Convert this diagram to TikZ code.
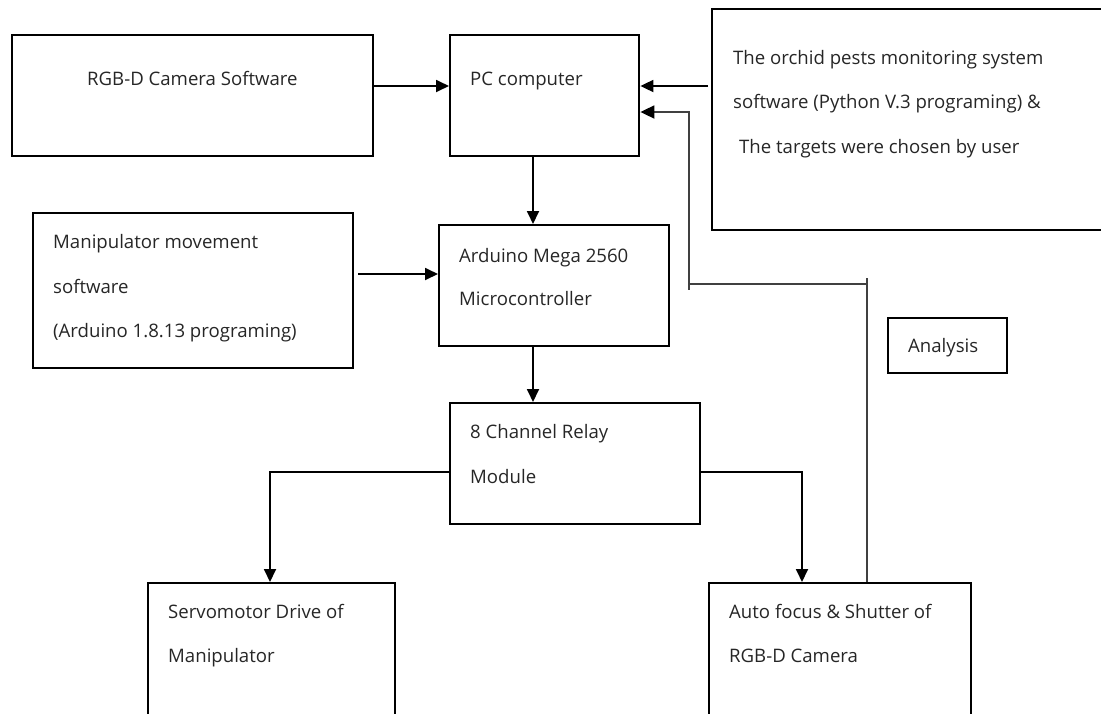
\documentclass[tikz,border=0pt]{standalone}
\usepackage{fontspec}
\setmainfont{Open Sans}
\usetikzlibrary{arrows.meta}
\begin{document}
\begin{tikzpicture}[x=1pt,y=-1pt,
  blk/.style={draw=black,line width=2.4pt,inner sep=0pt,anchor=north west},
  lbl/.style={anchor=base west,inner sep=0pt,font=\fontsize{18.6}{22}\selectfont,text=black!85},
  arr/.style={line width=1.8pt,-{Triangle[length=13pt,width=12pt]}},
  fb/.style={line width=1.2pt,draw=black!75,-{Triangle[length=14pt,width=13pt,color=black,line width=1.8pt]}},
  wire/.style={line width=1.8pt}]
\useasboundingbox (0,0) rectangle (1101,713);

% boxes
\node[blk,minimum width=361pt,minimum height=121pt] (rgbd) at (11,34) {};
\node[blk,minimum width=189pt,minimum height=121pt] (pc) at (449,34) {};
\node[blk,minimum width=400pt,minimum height=221pt] (orchid) at (711,8) {};
\node[blk,minimum width=320pt,minimum height=155pt] (manip) at (32,212) {};
\node[blk,minimum width=230pt,minimum height=121pt] (ard) at (438,224) {};
\node[blk,minimum width=119pt,minimum height=55pt] (ana) at (887,317) {};
\node[blk,minimum width=250pt,minimum height=121pt] (relay) at (449,402) {};
\node[blk,minimum width=247pt,minimum height=150pt] (servo) at (147,582) {};
\node[blk,minimum width=262pt,minimum height=150pt] (cam) at (708,582) {};

% labels
\node[lbl] (trgbd) at (87,85) {RGB-D Camera Software};
\node[lbl] (tpc) at (470,85) {PC computer};
\node[lbl] (to1) at (733,64) {The orchid pests monitoring system};
\node[lbl] (to2) at (733,108) {software (Python V.3 programing) \&};
\node[lbl] (to3) at (739,153) {The targets were chosen by user};
\node[lbl] (tm1) at (53,248) {Manipulator movement};
\node[lbl] (tm2) at (53,293) {software};
\node[lbl] (tm3) at (53,337) {(Arduino 1.8.13 programing)};
\node[lbl] (ta1) at (459,262) {Arduino Mega 2560};
\node[lbl] (ta2) at (459,305) {Microcontroller};
\node[lbl] (tana) at (908,352) {Analysis};
\node[lbl] (tr1) at (470,438) {8 Channel Relay};
\node[lbl] (tr2) at (470,483) {Module};
\node[lbl] (ts1) at (168,618) {Servomotor Drive of};
\node[lbl] (ts2) at (168,662) {Manipulator};
\node[lbl] (tc1) at (729,618) {Auto focus \& Shutter of};
\node[lbl] (tc2) at (729,662) {RGB-D Camera};

% junction points
\coordinate (c1) at (689,112);
\coordinate (c2) at (689,284);
\coordinate (c3) at (867,284);

% connectors
\draw[arr] (rgbd.east |- 0,86) -- (pc.west |- 0,86);
\draw[arr] (orchid.west |- 0,86) ++(-3,0) -- (pc.east |- 0,86);
\draw[arr] (pc.south -| 533,0) -- (ard.north -| 533,0);
\draw[arr] (manip.east |- 0,274) ++(4,0) -- (ard.west |- 0,274);
\draw[arr] (ard.south -| 533,0) -- (relay.north -| 533,0);
\draw[arr] (relay.west |- 0,472) -| (servo.north -| 270,0);
\draw[arr] (relay.east |- 0,472) -| (cam.north -| 802,0);
\draw[fb] (cam.north -| c3) -- (c3) -- (c2) -- (c1) -- (pc.east |- c1);
% small overshoot ticks at the corners
\draw[line width=1.2pt,draw=black!75] (c3) -- ++(0,-6) (c2) -- ++(0,6);
\end{tikzpicture}
\end{document}
